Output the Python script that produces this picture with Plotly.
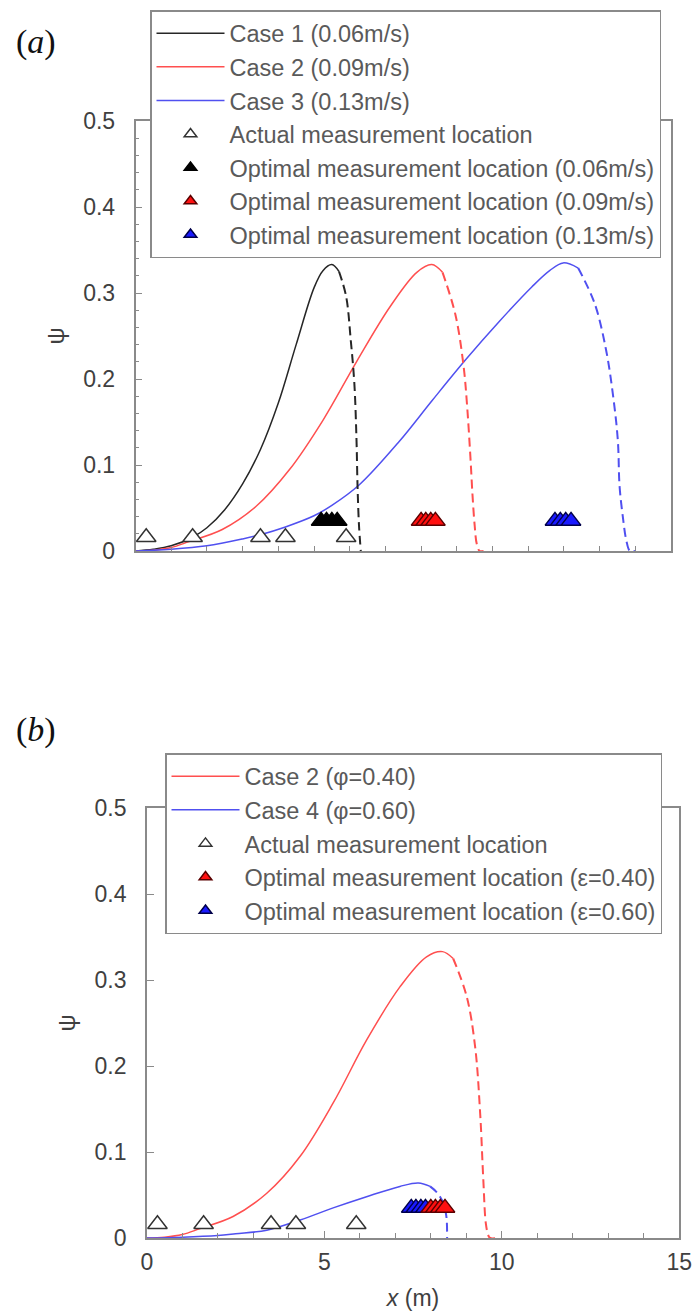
import plotly.graph_objects as go

# ---------------- Panel (a) data ----------------
c1_solid_x = [0, 0.5, 1.0, 1.6, 2.0, 2.5, 3.0, 3.5, 4.0, 4.5, 5.0, 5.25, 5.5, 5.7]
c1_solid_y = [0, 0.002, 0.006, 0.016, 0.027, 0.048, 0.078, 0.118, 0.172, 0.240, 0.306, 0.326, 0.333, 0.325]
c1_dash_x = [5.7, 5.9, 6.03, 6.13, 6.19, 6.22, 6.26, 6.31]
c1_dash_y = [0.325, 0.296, 0.245, 0.195, 0.130, 0.075, 0.030, 0.0]

c2_solid_x = [0, 0.5, 1.0, 1.5, 2.43, 3.38, 4.32, 5.25, 6.19, 7.13, 7.88, 8.3, 8.6]
c2_solid_y = [0, 0.001, 0.004, 0.011, 0.025, 0.052, 0.095, 0.152, 0.220, 0.284, 0.324, 0.333, 0.324]
c2_dash_x = [8.6, 8.96, 9.19, 9.29, 9.38, 9.44, 9.5, 9.56, 9.64, 9.75]
c2_dash_y = [0.324, 0.275, 0.215, 0.168, 0.110, 0.065, 0.030, 0.008, 0.0, 0.0]

c3_solid_x = [0, 1.0, 2.0, 3.0, 3.5, 4.2, 5.0, 5.5, 6.27, 7.38, 8.31, 9.24, 10.17, 11.1, 11.6, 11.98, 12.4]
c3_solid_y = [0, 0.002, 0.006, 0.014, 0.019, 0.028, 0.041, 0.053, 0.077, 0.127, 0.175, 0.222, 0.266, 0.307, 0.326, 0.335, 0.329]
c3_dash_x = [12.4, 12.86, 13.18, 13.37, 13.51, 13.56, 13.65, 13.75, 13.85, 14.0]
c3_dash_y = [0.329, 0.288, 0.234, 0.183, 0.129, 0.075, 0.040, 0.012, 0.0, 0.0]

actual_x = [0.3, 1.6, 3.5, 4.2, 5.9]
actual_psi = [0.016, 0.016, 0.016, 0.016, 0.016]

opt_a_black_x = [5.2, 5.35, 5.5, 5.65]
opt_a_red_x = [8.0, 8.13, 8.27, 8.4]
opt_a_blue_x = [11.75, 11.9, 12.05, 12.2]
opt_psi = [0.035, 0.035, 0.035, 0.035]

# ---------------- Panel (b) data ----------------
c2b_solid_x = [0, 0.5, 1.0, 1.5, 2.43, 3.38, 4.32, 5.25, 6.19, 7.13, 7.88, 8.33, 8.63]
c2b_solid_y = [0, 0.001, 0.004, 0.011, 0.025, 0.052, 0.095, 0.157, 0.230, 0.292, 0.327, 0.333, 0.325]
c2b_dash_x = [8.63, 9.01, 9.25, 9.39, 9.48, 9.55, 9.62, 9.67, 9.86]
c2b_dash_y = [0.325, 0.281, 0.222, 0.145, 0.067, 0.017, 0.003, 0.0, 0.0]

c4_solid_x = [0, 1.0, 2.0, 2.5, 3.38, 4.32, 5.25, 6.19, 7.13, 7.65, 7.98]
c4_solid_y = [0, 0.001, 0.003, 0.005, 0.009, 0.021, 0.035, 0.048, 0.060, 0.064, 0.060]
c4_dash_x = [7.98, 8.15, 8.26, 8.36, 8.42, 8.45, 8.46]
c4_dash_y = [0.060, 0.054, 0.048, 0.040, 0.030, 0.020, 0.0]

opt_b_blue_x = [7.45, 7.58, 7.72, 7.85]
opt_b_red_x = [8.0, 8.13, 8.27, 8.4]

x_ticks_b = [0, 5, 10, 15]
y_ticks = [0, 0.1, 0.2, 0.3, 0.4, 0.5]

# ---------------- styles ----------------
BLACK = "#262626"
RED = "#ff4f4f"
BLUE = "#5050f0"
AXC = "#8a8a8a"
TXT = "#5a5a5a"
FONT = "Arial, Liberation Sans, sans-serif"

W, H = 694, 1316


def px(X):
    return X / W


def py(Y):
    return 1 - Y / H


fig = go.Figure()


def curve(x, y, color, name, xa, ya, legend, dash=False):
    fig.add_trace(go.Scatter(
        x=x, y=y, mode="lines", name=name, xaxis=xa, yaxis=ya, legend=legend,
        showlegend=not dash,
        line=dict(color=color, width=2.0 if dash else 1.5,
                  dash="9px,5px" if dash else "solid", shape="spline", smoothing=1.0),
        hoverinfo="skip"))


def markers(x, y, fill, edge, name, xa, ya, legend):
    # legend entry (small symbol)
    fig.add_trace(go.Scatter(
        x=[None], y=[None], mode="markers", name=name, xaxis=xa, yaxis=ya, legend=legend,
        marker=dict(symbol="triangle-up", size=11, color=fill, line=dict(color=edge, width=1.5))))
    # plotted points
    fig.add_trace(go.Scatter(
        x=x, y=y, mode="markers", name=name, xaxis=xa, yaxis=ya, legend=legend,
        showlegend=False,
        marker=dict(symbol="triangle-up", size=17, color=fill,
                    line=dict(color=edge, width=1.5)),
        hoverinfo="skip"))


# Panel (a)
curve(c1_solid_x, c1_solid_y, BLACK, "Case 1 (0.06m/s)", "x", "y", "legend")
curve(c2_solid_x, c2_solid_y, RED, "Case 2 (0.09m/s)", "x", "y", "legend")
curve(c3_solid_x, c3_solid_y, BLUE, "Case 3 (0.13m/s)", "x", "y", "legend")
curve(c1_dash_x, c1_dash_y, BLACK, "c1d", "x", "y", "legend", dash=True)
curve(c2_dash_x, c2_dash_y, RED, "c2d", "x", "y", "legend", dash=True)
curve(c3_dash_x, c3_dash_y, BLUE, "c3d", "x", "y", "legend", dash=True)
markers(actual_x, actual_psi, "white", "#333333", "Actual measurement location", "x", "y", "legend")
markers(opt_a_black_x, opt_psi, "#000000", "#000000", "Optimal measurement location (0.06m/s)", "x", "y", "legend")
markers(opt_a_red_x, opt_psi, "#ff1010", "#5a0000", "Optimal measurement location (0.09m/s)", "x", "y", "legend")
markers(opt_a_blue_x, opt_psi, "#1a1aff", "#00004a", "Optimal measurement location (0.13m/s)", "x", "y", "legend")

# Panel (b)
curve(c2b_solid_x, c2b_solid_y, RED, "Case 2 (φ=0.40)", "x2", "y2", "legend2")
curve(c4_solid_x, c4_solid_y, BLUE, "Case 4 (φ=0.60)", "x2", "y2", "legend2")
curve(c2b_dash_x, c2b_dash_y, RED, "c2bd", "x2", "y2", "legend2", dash=True)
curve(c4_dash_x, c4_dash_y, BLUE, "c4d", "x2", "y2", "legend2", dash=True)
markers(actual_x, actual_psi, "white", "#333333", "Actual measurement location", "x2", "y2", "legend2")
markers(opt_b_blue_x, opt_psi, "#1a1aff", "#00004a", "Optimal measurement location (ε=0.60)", "x2", "y2", "legend2")
markers(opt_b_red_x, opt_psi, "#ff1010", "#5a0000", "Optimal measurement location (ε=0.40)", "x2", "y2", "legend2")
# legend order: red optimal entry above blue optimal entry
for tr in fig.data:
    if tr.name == "Optimal measurement location (ε=0.40)":
        tr.legendrank = 1001
    elif tr.name == "Optimal measurement location (ε=0.60)":
        tr.legendrank = 1002

axis_common = dict(showgrid=False, zeroline=False, showline=True, linecolor=AXC,
                   linewidth=1.5, mirror=True, ticks="inside", tickcolor=AXC,
                   automargin=False,
                   tickfont=dict(family=FONT, size=23, color="#404040"))

legend_common = dict(bgcolor="white", bordercolor=AXC, borderwidth=1.5,
                     font=dict(family=FONT, size=23.5, color=TXT),
                     xanchor="left", yanchor="top", itemsizing="trace",
                     itemwidth=68, tracegroupgap=0)

SERIF = "Liberation Serif, DejaVu Serif, serif"

fig.update_layout(
    width=W, height=H,
    margin=dict(l=0, r=0, t=0, b=0, autoexpand=False),
    plot_bgcolor="white", paper_bgcolor="white",
    xaxis=dict(axis_common, domain=[px(135.5), px(671)], range=[0, 15], tick0=0, dtick=1,
               ticklen=5, showticklabels=False, anchor="y"),
    yaxis=dict(axis_common, domain=[py(551), py(121)], range=[0, 0.5],
               tickvals=y_ticks, ticklen=7, ticklabelstandoff=14, anchor="x",
               minor=dict(dtick=0.02, tick0=0, ticks="inside", ticklen=4, tickcolor=AXC),
               title=dict(text="ψ", font=dict(family=FONT, size=24, color="#404040"), standoff=12)),
    xaxis2=dict(axis_common, domain=[px(146.8), px(679.3)], range=[0, 15], tickvals=x_ticks_b,
                ticklen=7, ticklabelstandoff=3, anchor="y2",
                minor=dict(dtick=1, tick0=0, ticks="inside", ticklen=5, tickcolor=AXC),
                title=dict(text="<i>x</i> (m)", font=dict(family=FONT, size=23, color="#404040"),
                           standoff=16)),
    yaxis2=dict(axis_common, domain=[py(1238), py(808)], range=[0, 0.5],
                tickvals=y_ticks, ticklen=7, ticklabelstandoff=14, anchor="x2",
                title=dict(text="ψ", font=dict(family=FONT, size=24, color="#404040"), standoff=12)),
    legend=dict(legend_common, x=px(150), y=py(10)),
    legend2=dict(legend_common, x=px(165), y=py(753)),
    showlegend=True,
    annotations=[
        dict(text="(<i>a</i>)", x=px(36), y=py(42), xref="paper", yref="paper",
             xanchor="center", yanchor="middle",
             showarrow=False, font=dict(family=SERIF, size=34, color="#111")),
        dict(text="(<i>b</i>)", x=px(36), y=py(730), xref="paper", yref="paper",
             xanchor="center", yanchor="middle",
             showarrow=False, font=dict(family=SERIF, size=34, color="#111")),
    ],
)

fig.write_html("out.html", config={"displayModeBar": False},
               post_script="document.body.style.margin='0';document.body.style.overflow='hidden';")
